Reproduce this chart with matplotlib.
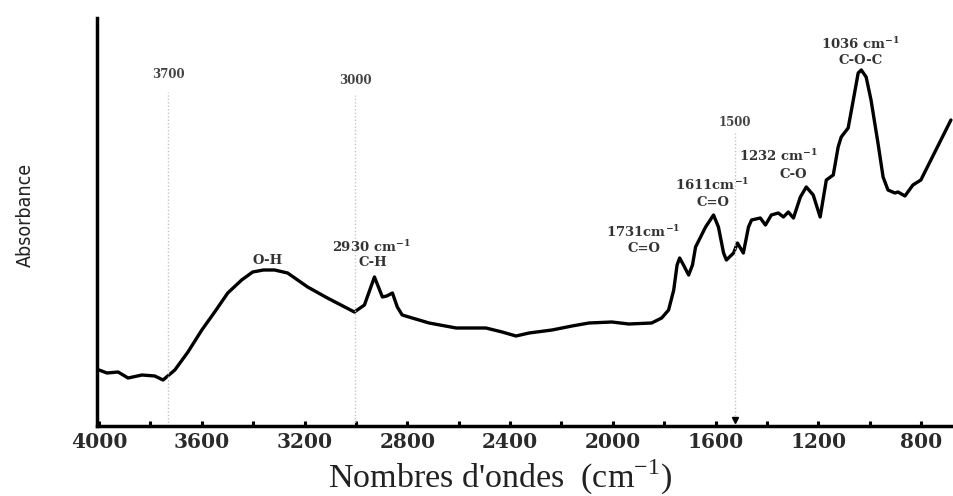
import matplotlib
matplotlib.use("Agg")
import matplotlib.pyplot as plt

# ---- data ----
wavenumber = [4000, 3969, 3926, 3887, 3833, 3783, 3751, 3705, 3654, 3600, 3550, 3499,
              3445, 3402, 3360, 3317, 3266, 3188, 3111, 3006, 2967, 2928, 2897, 2880,
              2858, 2839, 2820, 2781, 2715, 2610, 2494, 2431, 2377, 2326, 2237, 2159,
              2093, 2004, 1938, 1849, 1810, 1783, 1763, 1750, 1740, 1725, 1705, 1690,
              1678, 1639, 1608, 1589, 1569, 1558, 1530, 1515, 1492, 1472, 1460, 1426,
              1406, 1383, 1356, 1336, 1317, 1297, 1270, 1247, 1220, 1193, 1169, 1142,
              1123, 1111, 1084, 1064, 1045, 1033, 1014, 995, 968, 948, 929, 902, 890,
              863, 832, 801, 762, 723, 684]
absorbance = [0.56, 0.53, 0.54, 0.48, 0.51, 0.50, 0.46, 0.56, 0.74, 0.96, 1.14, 1.33,
              1.46, 1.54, 1.56, 1.56, 1.53, 1.39, 1.28, 1.14, 1.21, 1.49, 1.29, 1.30,
              1.33, 1.19, 1.11, 1.08, 1.03, 0.98, 0.98, 0.94, 0.90, 0.93, 0.96, 1.00,
              1.03, 1.04, 1.02, 1.03, 1.08, 1.16, 1.36, 1.61, 1.68, 1.61, 1.51, 1.61,
              1.79, 1.99, 2.11, 1.99, 1.73, 1.66, 1.73, 1.83, 1.73, 1.99, 2.06, 2.08,
              2.01, 2.11, 2.13, 2.09, 2.14, 2.08, 2.29, 2.39, 2.31, 2.09, 2.46, 2.51,
              2.79, 2.89, 2.98, 3.26, 3.53, 3.56, 3.49, 3.26, 2.83, 2.49, 2.36, 2.33,
              2.34, 2.30, 2.41, 2.46, 2.66, 2.86, 3.06]

ref_lines = [3730, 3002, 1525]
ref_line_tops = [3.34, 3.31, 2.93]
ref_labels = ["3700", "3000", "1500"]
ref_label_y = [3.51, 3.46, 3.04]

ann_x = [3344, 2940, 2936, 1880, 1880, 1612, 1612, 1356, 1297, 1037, 1037]
ann_y = [1.66, 1.79, 1.63, 1.94, 1.78, 2.41, 2.23, 2.70, 2.52, 3.82, 3.65]
ann_text = ["O-H",
            r"2930 cm$^{\mathregular{-1}}$", "C-H",
            r"1731cm$^{\mathregular{-1}}$", "C=O",
            r"1611cm$^{\mathregular{-1}}$", "C=O",
            r"1232 cm$^{\mathregular{-1}}$", "C-O",
            r"1036 cm$^{\mathregular{-1}}$", "C-O-C"]

major_ticks = [4000, 3600, 3200, 2800, 2400, 2000, 1600, 1200, 800]
minor_ticks = [3800, 3400, 3000, 2600, 2200, 1800, 1400, 1000]

# ---- styling ----
plt.rcParams['font.family'] = ['DejaVu Serif']

fig = plt.figure(figsize=(9.54, 4.96), dpi=100)
ax = fig.add_axes([97/954, (496-426)/496, 1 - 97/954, (426-18)/496])

ax.plot(wavenumber, absorbance, color='black', lw=2.4,
        solid_joinstyle='round', solid_capstyle='round')

for x, top, lab, ly in zip(ref_lines, ref_line_tops, ref_labels, ref_label_y):
    ax.plot([x, x], [0, top], color='#c4c4c4', lw=1.0, ls=(0, (1, 1.5)))
    ax.text(x, ly, lab, ha='center', va='center', fontsize=8.5,
            fontweight='bold', color='#444444')
ax.plot([ref_lines[2]], [0.06], marker='v', color='black', ms=5)

for x, y, t in zip(ann_x, ann_y, ann_text):
    ax.text(x, y, t, ha='center', va='center', fontsize=9.5,
            fontweight='bold', color='#333333')

ax.set_xlim(4008, 672)
ax.set_ylim(0, 4.08)

ax.set_xticks(major_ticks)
ax.set_xticklabels([str(t) for t in major_ticks], fontsize=14.5,
                   fontweight='bold', color='#2a2a2a')
ax.set_xticks(minor_ticks, minor=True)
ax.tick_params(axis='x', which='both', direction='in', length=3.5, width=2.2, pad=4)
ax.set_yticks([])

for s in ['top', 'right']:
    ax.spines[s].set_visible(False)
ax.spines['left'].set_linewidth(2.5)
ax.spines['bottom'].set_linewidth(2.5)

ax.set_xlabel(r"Nombres d'ondes  (cm$^{\mathregular{-1}}$)", fontsize=24.5,
              family=['Liberation Serif', 'DejaVu Serif'], color='#222222')
ax.xaxis.set_label_coords((500 - 97) / 857, (426 - 488) / 408)
ax.xaxis.label.set_va('baseline')

fig.text(25/954, 1 - 215/496, "Absorbance", rotation=90, ha='center', va='center',
         fontsize=14, family=['DejaVu Sans'], stretch='condensed', color='#222222')

fig.savefig("out.png", dpi=100)
